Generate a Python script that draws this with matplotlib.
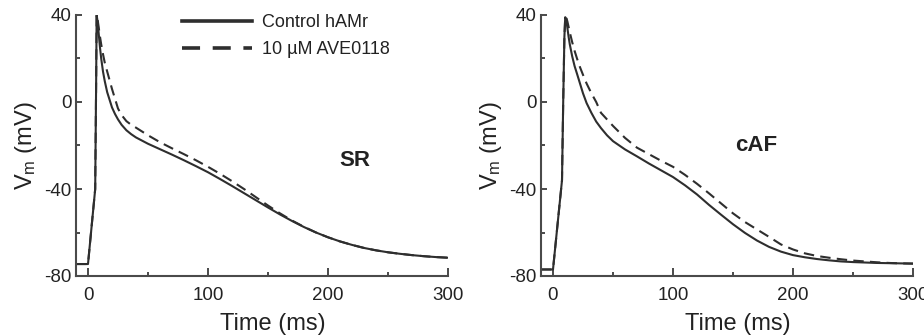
import matplotlib
matplotlib.use("Agg")
import matplotlib.pyplot as plt
from matplotlib.lines import Line2D
from matplotlib.ticker import MultipleLocator

plt.rcParams['font.family'] = ['Liberation Sans', 'DejaVu Sans']
plt.rcParams['mathtext.default'] = 'regular'
plt.rcParams['axes.unicode_minus'] = False

# SR panel
sr_t = [-10, 0, 6, 6.8, 7.2, 8, 9, 10, 11, 12.5, 14, 16, 18, 20, 22.5, 25, 28, 32, 36, 40,
        50, 60, 70, 80, 90, 100, 110, 120, 130, 140, 150, 160, 170, 180, 190, 200,
        210, 220, 230, 240, 250, 260, 270, 280, 290, 300]
sr_ctrl = [-74.5, -74.5, -40, 10, 40, 37, 31, 25, 20, 14, 9.5, 4.5, 1, -2.5, -5.5, -8, -10.5, -13, -14.8, -16.3,
           -19.2, -21.7, -24.2, -26.8, -29.5, -32.3, -35.4, -38.6, -41.9, -45.2, -48.5, -51.7, -54.7, -57.5, -60, -62.2,
           -64.1, -65.7, -67.1, -68.2, -69.1, -69.8, -70.4, -70.9, -71.3, -71.6]
sr_ave = [-74.5, -74.5, -40, 10, 40, 38, 34, 30, 26.5, 22, 18, 14, 10, 6, 1.5, -3, -6, -8.8, -10.5, -11.8,
          -15.3, -18.5, -21.3, -24, -26.8, -29.8, -33, -36.4, -40, -43.8, -47.6, -51.2, -54.5, -57.4, -60, -62.2,
          -64.1, -65.7, -67.1, -68.2, -69.1, -69.8, -70.4, -70.9, -71.3, -71.6]

# cAF panel
caf_t = [-10, 0, 7.5, 8.5, 9.5, 10.2, 11, 12, 13, 14, 16, 18, 20, 22.5, 25, 28, 32, 36, 40, 45,
         50, 60, 70, 80, 90, 100, 110, 120, 130, 140, 150, 160, 170, 180, 190, 200,
         210, 220, 230, 240, 250, 260, 270, 280, 290, 300]
caf_ctrl = [-77, -77, -36, 0, 30, 39, 38, 34, 30, 26.5, 21, 16.5, 13, 8.5, 4, -0.5, -5, -9, -12, -15.3,
            -18, -21.8, -25, -28.3, -31.4, -34.5, -38.3, -42.5, -47.3, -51.8, -56.2, -60.2, -63.7, -66.6, -68.8, -70.4,
            -71.4, -72.2, -72.8, -73.3, -73.6, -73.8, -74, -74.1, -74.2, -74.3]
caf_ave = [-77, -77, -36, 0, 30, 39, 39, 37, 34.5, 32, 27.5, 23.5, 20, 16, 12.5, 8.5, 4, 0, -5, -8,
           -11, -16.5, -21, -24, -27, -29.8, -33.5, -37.6, -42, -46.6, -51.2, -55.2, -58.6, -62, -65.5, -67.8,
           -69.6, -70.8, -71.6, -72.3, -72.9, -73.3, -73.7, -74, -74.2, -74.3]

panels = [("SR", sr_t, sr_ctrl, sr_ave, (222, -27)),
          ("cAF", caf_t, caf_ctrl, caf_ave, (169, -20))]
legend_labels = ["Control hAMr", "10 \u00b5M AVE0118"]

line_col = '#2e2e2e'
spine_col = '#4a4a4a'
text_col = '#222222'

fig = plt.figure(figsize=(9.24, 3.35), dpi=100)
lefts = [76 / 924, 541 / 924]
axes = []
for left, (name, t, ctrl, ave, pos) in zip(lefts, panels):
    ax = fig.add_axes([left, 59 / 335, 372 / 924, 261 / 335])
    ax.plot(t, ctrl, color=line_col, lw=1.5, solid_joinstyle='round')
    ax.plot(t, ave, color=line_col, lw=1.5, linestyle=(0, (5, 3)))
    ax.set_xlim(-10, 300)
    ax.set_ylim(-80, 40)
    ax.xaxis.set_major_locator(MultipleLocator(100))
    ax.xaxis.set_minor_locator(MultipleLocator(50))
    ax.yaxis.set_major_locator(MultipleLocator(40))
    ax.yaxis.set_minor_locator(MultipleLocator(20))
    for s in ['top', 'right']:
        ax.spines[s].set_visible(False)
    for s in ['left', 'bottom']:
        ax.spines[s].set_color(spine_col)
        ax.spines[s].set_linewidth(1.5)
    ax.tick_params(which='both', direction='in', color=spine_col, width=1.4,
                   labelsize=13.5, labelcolor=text_col)
    ax.tick_params(axis='x', which='major', length=5.5, pad=8)
    ax.tick_params(axis='x', which='minor', length=3)
    ax.tick_params(axis='y', which='major', length=4, pad=3)
    ax.tick_params(axis='y', which='minor', length=3)
    ax.set_xlabel("Time (ms)", fontsize=17, color=text_col)
    ax.xaxis.set_label_coords(0.53, -0.14)
    ax.set_ylabel("V$_{m}$ (mV)", fontsize=17, color=text_col, labelpad=4)
    ax.text(pos[0], pos[1], name, fontsize=16, fontweight='bold',
            ha='center', va='center', color=text_col)
    axes.append(ax)

handles = [Line2D([], [], color=line_col, lw=2.6),
           Line2D([], [], color=line_col, lw=2.6, linestyle=(0, (5, 3.5)))]
axes[0].legend(handles, legend_labels, loc='upper left', bbox_to_anchor=(0.285, 1.002),
               frameon=False, fontsize=13, handlelength=3.9, handletextpad=0.55,
               borderpad=0, borderaxespad=0, labelspacing=0.55, labelcolor=text_col)

fig.savefig("out.png", dpi=100)
